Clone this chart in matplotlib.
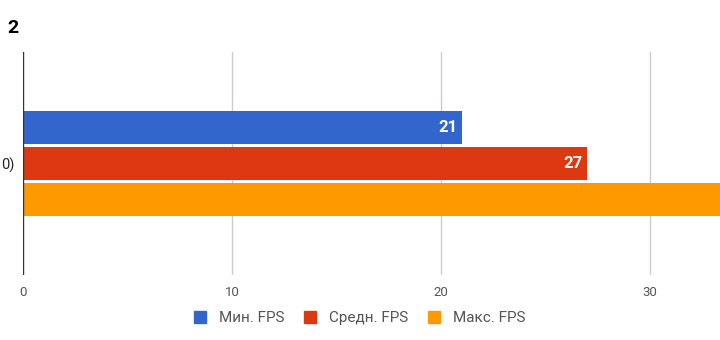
import matplotlib
matplotlib.use("Agg")
import matplotlib.pyplot as plt
from matplotlib.patches import Patch

plt.rcParams['font.family'] = ['Roboto', 'DejaVu Sans']

# Data
category_label = "0)"
series = ["Мин. FPS", "Средн. FPS", "Макс. FPS"]
values = [21, 27, 35]
colors = ["#3366cc", "#dc3912", "#ff9900"]
x_ticks = [0, 10, 20, 30]

W, H = 720, 340
fig = plt.figure(figsize=(W / 100, H / 100), dpi=100)
left_px, top_px, bottom_px = 23, 52, 275
ax = fig.add_axes([left_px / W, 1 - bottom_px / H, 1 - left_px / W, (bottom_px - top_px) / H])

x_max = (W - left_px) / 20.9
ax.set_xlim(0, x_max)
ax.set_ylim(-0.5, 0.5)

bar_h = 33 / 223
step = 36 / 223
for i, (name, v, c) in enumerate(zip(series, values, colors)):
    y = (1 - i) * step
    ax.barh(y, v, height=bar_h, color=c, zorder=3)
    if v < x_max:
        ax.text(v - 0.2, y, str(v), ha='right', va='center', color='white',
                fontsize=12, fontweight='bold', zorder=4)

for t in x_ticks[1:]:
    ax.axvline(t, color='#cccccc', lw=1, zorder=1)
ax.axvline(0, color='#333333', lw=1, zorder=5)

ax.set_xticks(x_ticks)
ax.set_xticklabels([str(t) for t in x_ticks], color='#555555', fontsize=9.5)
ax.tick_params(axis='x', length=0, pad=8)
ax.set_yticks([])
for s in ax.spines.values():
    s.set_visible(False)

# category label sits to the left of the axis
fig.text(1 / W, 1 - 165 / H, category_label, ha='left', va='center', fontsize=10.5, color='#222222')

# title
fig.text(7 / W, 1 - 28 / H, "2", ha='left', va='center', fontsize=14, fontweight='bold', color='#000000')

handles = [Patch(facecolor=c, edgecolor=c) for c in colors]
fig.legend(handles, series, loc='center', bbox_to_anchor=(360 / W, 1 - 318 / H), ncol=3,
           frameon=False, fontsize=11, handlelength=0.78, handleheight=0.85,
           handletextpad=0.85, columnspacing=1.3, labelcolor='#555555')

fig.savefig("out.png", dpi=100)
